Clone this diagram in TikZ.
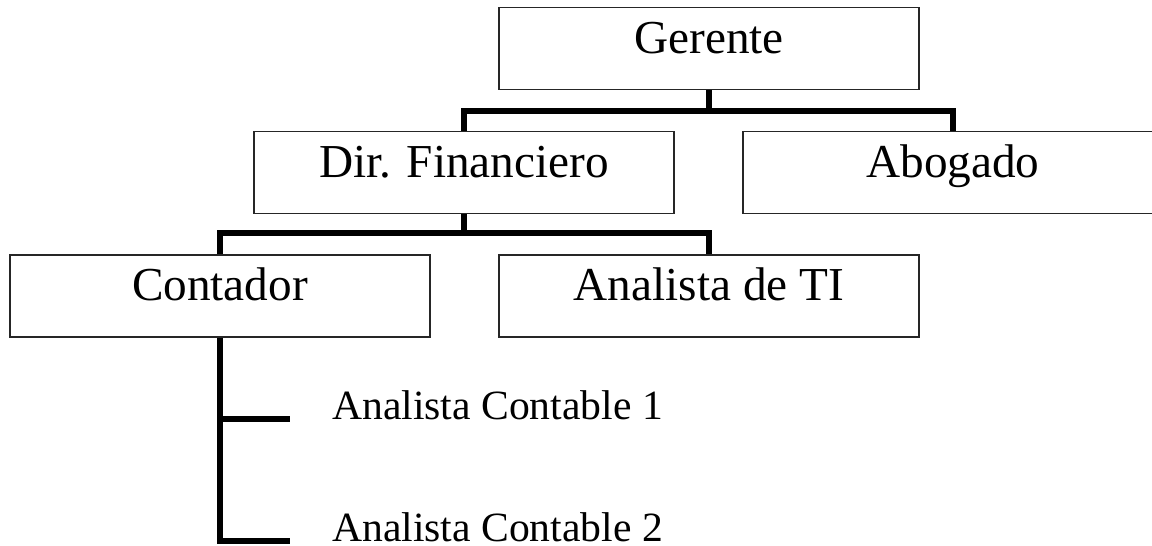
\documentclass[tikz,border=0pt]{standalone}
\usepackage{fontspec}
\setmainfont{Liberation Serif}

\begin{document}
\begin{tikzpicture}[x=0.025cm, y=-0.025cm,
    font=\fontsize{29.6pt}{36pt}\selectfont,
    puesto/.style={draw=black!85, line width=1pt, minimum width=10.5cm,
        font=\fontsize{33.6pt}{40pt}\selectfont,
        inner sep=0pt, text height=1.14cm, text depth=0.91cm},
    rama/.style={line width=3.8pt}]
    \useasboundingbox (0, 0) rectangle (1152, 546);

    \node[puesto] (ger) at (709, 48.5) {Gerente};
    \node[puesto] (dir) at (464, 172.5) {Dir. Financiero};
    \node[puesto] (abo) at (953, 172.5) {Abogado};
    \node[puesto] (cont) at (220, 296) {Contador};
    \node[puesto] (ti) at (709, 296) {Analista de TI};

    \node[anchor=base west, inner sep=0pt] (ac1) at (332, 419) {Analista Contable 1};
    \node[anchor=base west, inner sep=0pt] (ac2) at (332, 541) {Analista Contable 2};

    \coordinate (bus1) at (709, 111);
    \draw[rama] (ger.south) -- (bus1);
    \draw[rama] (dir.north) |- (bus1) -| (abo.north);

    \coordinate (bus2) at (464, 233);
    \draw[rama] (dir.south) -- (bus2);
    \draw[rama] (cont.north) |- (bus2) -| (ti.north);

    \draw[rama] (cont.south) |- ([xshift=-1.05cm]ac2.base west);
    \draw[rama] (cont.south |- ac1.base) -- ([xshift=-1.05cm]ac1.base west);
\end{tikzpicture}
\end{document}
